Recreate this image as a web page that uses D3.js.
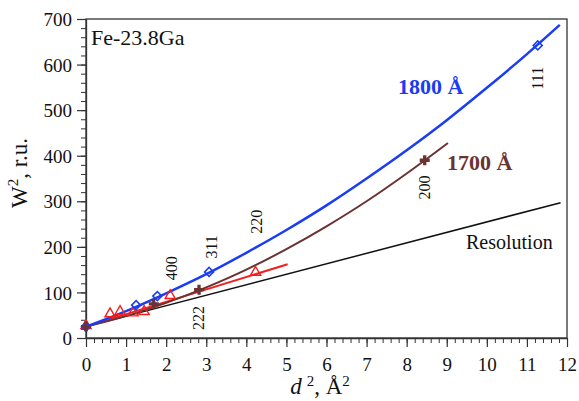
<!DOCTYPE html>
<html>
<head>
<meta charset="utf-8">
<script src="https://cdnjs.cloudflare.com/ajax/libs/d3/7.8.5/d3.min.js"></script>
<style>
  body { margin: 0; background: #fff; }
</style>
</head>
<body>
<div id="chart"></div>
<script>
// ===============Data
var xTicks = [0, 1, 2, 3, 4, 5, 6, 7, 8, 9, 10, 11, 12];
var yTicks = [0, 100, 200, 300, 400, 500, 600, 700];

// fitted curves
var curve1800 = [[0, 25], [1, 59], [2, 98], [3, 140], [4, 187], [5, 237], [6, 291],
                 [7, 350], [8, 412], [9, 478], [10, 549], [11, 623], [11.82, 687]];
var curve1700 = [[0, 25], [1, 48], [2, 77], [3, 111], [4, 150], [5, 195], [6, 245],
                 [7, 300], [8, 361], [9.03, 428]];
var lineRed = [[0, 25], [5.03, 162]];
var lineResolution = [[0, 25], [11.84, 297]];

// measured points
var pts1800 = [[0, 25], [1.25, 72], [1.78, 92], [3.07, 145], [11.27, 642]];
var pts1700 = [[0, 25], [1.69, 75], [2.82, 106], [8.45, 390]];
var ptsRed = [[0, 27], [0.6, 53], [0.85, 58], [1.17, 55], [1.45, 58], [2.1, 93], [4.23, 144]];

// reflection labels [d2, W2 position, text]
var hklLabels = [
    [11.27, 570, "111"],
    [8.45, 330, "200"],
    [4.26, 255, "220"],
    [3.13, 200, "311"],
    [2.14, 153, "400"],
    [2.8, 44, "222"]
];

// ===========Set Height, Width and Margins
var svgWidth = 579;
var svgHeight = 401;
var margin = { top: 19, right: 12, bottom: 63, left: 86 };
var width = svgWidth - margin.left - margin.right;
var height = svgHeight - margin.top - margin.bottom;

var blue = "#1a3cf5";
var brown = "#6b3232";
var red = "#f51e1e";
var serif = "'Liberation Serif', 'Times New Roman', Times, 'DejaVu Serif', serif";

//============Create SVG container
var svg = d3.select("#chart").append("svg")
    .attr("width", svgWidth)
    .attr("height", svgHeight)
    .style("font-family", serif);

var chartGroup = svg.append("g")
    .attr("transform", `translate(${margin.left}, ${margin.top})`);

// ==========xScale and yScale
var xScale = d3.scaleLinear().domain([0, 12]).range([0, width]);
var yScale = d3.scaleLinear().domain([0, 700]).range([height, 0]);

// ==========frame (top and right)
chartGroup.append("rect")
    .attr("width", width)
    .attr("height", height)
    .attr("fill", "none")
    .attr("stroke", "#333")
    .attr("stroke-width", 1.3);

// ==========minor ticks
var xMinor = d3.range(0, 12.01, 0.2);
var yMinor = d3.range(0, 700.1, 20);

chartGroup.append("g")
    .attr("transform", `translate(0, ${height})`)
    .call(d3.axisBottom(xScale).tickValues(xMinor).tickSize(5).tickFormat(""))
    .call(g => g.select(".domain").remove())
    .selectAll("line").attr("stroke", "#333");

chartGroup.append("g")
    .call(d3.axisLeft(yScale).tickValues(yMinor).tickSize(5).tickFormat(""))
    .call(g => g.select(".domain").remove())
    .selectAll("line").attr("stroke", "#333");

// ==========major axes
var xAxis = chartGroup.append("g")
    .attr("transform", `translate(0, ${height})`)
    .call(d3.axisBottom(xScale).tickValues(xTicks).tickSize(9).tickSizeOuter(0).tickPadding(11));

var yAxis = chartGroup.append("g")
    .call(d3.axisLeft(yScale).tickValues(yTicks).tickSize(9).tickSizeOuter(0).tickPadding(5));

[xAxis, yAxis].forEach(function(ax) {
    ax.attr("font-family", null).style("font-family", serif);
    ax.select(".domain").attr("stroke", "#333").attr("stroke-width", 1.3);
    ax.selectAll("line").attr("stroke", "#333").attr("stroke-width", 1.2);
    ax.selectAll("text")
        .attr("font-size", 19)
        .attr("fill", "#111");
});
yAxis.selectAll("text").attr("dy", "0.35em");

// ===========Lines
var line = d3.line()
    .x(d => xScale(d[0]))
    .y(d => yScale(d[1]));

var smooth = d3.line()
    .x(d => xScale(d[0]))
    .y(d => yScale(d[1]))
    .curve(d3.curveMonotoneX);

chartGroup.append("path")
    .datum(lineResolution)
    .attr("d", line)
    .attr("fill", "none")
    .attr("stroke", "#111")
    .attr("stroke-width", 1.5);

chartGroup.append("path")
    .datum(lineRed)
    .attr("d", line)
    .attr("fill", "none")
    .attr("stroke", red)
    .attr("stroke-width", 2);

chartGroup.append("path")
    .datum(curve1700)
    .attr("d", smooth)
    .attr("fill", "none")
    .attr("stroke", brown)
    .attr("stroke-width", 2);

chartGroup.append("path")
    .datum(curve1800)
    .attr("d", smooth)
    .attr("fill", "none")
    .attr("stroke", blue)
    .attr("stroke-width", 2.5);

// ===========Markers
chartGroup.selectAll(".tri")
    .data(ptsRed)
    .enter()
    .append("path")
    .attr("class", "tri")
    .attr("transform", d => `translate(${xScale(d[0])}, ${yScale(d[1])})`)
    .attr("d", d3.symbol().type(d3.symbolTriangle).size(45))
    .attr("fill", "none")
    .attr("stroke", red)
    .attr("stroke-width", 1.4);

chartGroup.selectAll(".dia")
    .data(pts1800)
    .enter()
    .append("path")
    .attr("class", "dia")
    .attr("transform", d => `translate(${xScale(d[0])}, ${yScale(d[1])}) rotate(45)`)
    .attr("d", d3.symbol().type(d3.symbolSquare).size(40))
    .attr("fill", "none")
    .attr("stroke", blue)
    .attr("stroke-width", 1.6);

chartGroup.selectAll(".crs")
    .data(pts1700)
    .enter()
    .append("path")
    .attr("class", "crs")
    .attr("transform", d => `translate(${xScale(d[0])}, ${yScale(d[1])})`)
    .attr("d", d3.symbol().type(d3.symbolCross).size(55))
    .attr("fill", brown);

// ===========hkl labels
chartGroup.selectAll(".hkl")
    .data(hklLabels)
    .enter()
    .append("text")
    .attr("class", "hkl")
    .attr("transform", d => `translate(${xScale(d[0])}, ${yScale(d[1])}) rotate(-90)`)
    .attr("dy", "0.35em")
    .attr("text-anchor", "middle")
    .attr("font-size", 16)
    .attr("fill", "#111")
    .text(d => d[2]);

// ===========Text labels
chartGroup.append("text")
    .attr("x", 5)
    .attr("y", 26)
    .attr("font-size", 22)
    .attr("fill", "#111")
    .text("Fe-23.8Ga");

chartGroup.append("text")
    .attr("x", 312)
    .attr("y", 75)
    .attr("font-size", 22)
    .attr("font-weight", "bold")
    .attr("fill", blue)
    .text("1800 Å");

chartGroup.append("text")
    .attr("x", 361)
    .attr("y", 151)
    .attr("font-size", 22)
    .attr("font-weight", "bold")
    .attr("fill", brown)
    .text("1700 Å");

chartGroup.append("text")
    .attr("x", 380)
    .attr("y", 230)
    .attr("font-size", 20)
    .attr("fill", "#111")
    .text("Resolution");

// ===========Axis titles
var yTitle = svg.append("text")
    .attr("transform", `translate(27, ${margin.top + 154}) rotate(-90)`)
    .attr("text-anchor", "middle")
    .attr("font-size", 23)
    .attr("fill", "#111");
yTitle.append("tspan").text("W");
yTitle.append("tspan").attr("dy", -9).attr("font-size", 15).text("2");
yTitle.append("tspan").attr("dy", 9).text(", r.u.");

var xTitle = svg.append("text")
    .attr("x", margin.left + 234)
    .attr("y", 394)
    .attr("text-anchor", "middle")
    .attr("font-size", 23)
    .attr("fill", "#111");
xTitle.append("tspan").attr("font-style", "italic").text("d");
xTitle.append("tspan").attr("dx", 5).attr("dy", -8).attr("font-size", 15).text("2");
xTitle.append("tspan").attr("dy", 8).text(", Å");
xTitle.append("tspan").attr("dy", -8).attr("font-size", 15).text("2");
</script>
</body>
</html>
